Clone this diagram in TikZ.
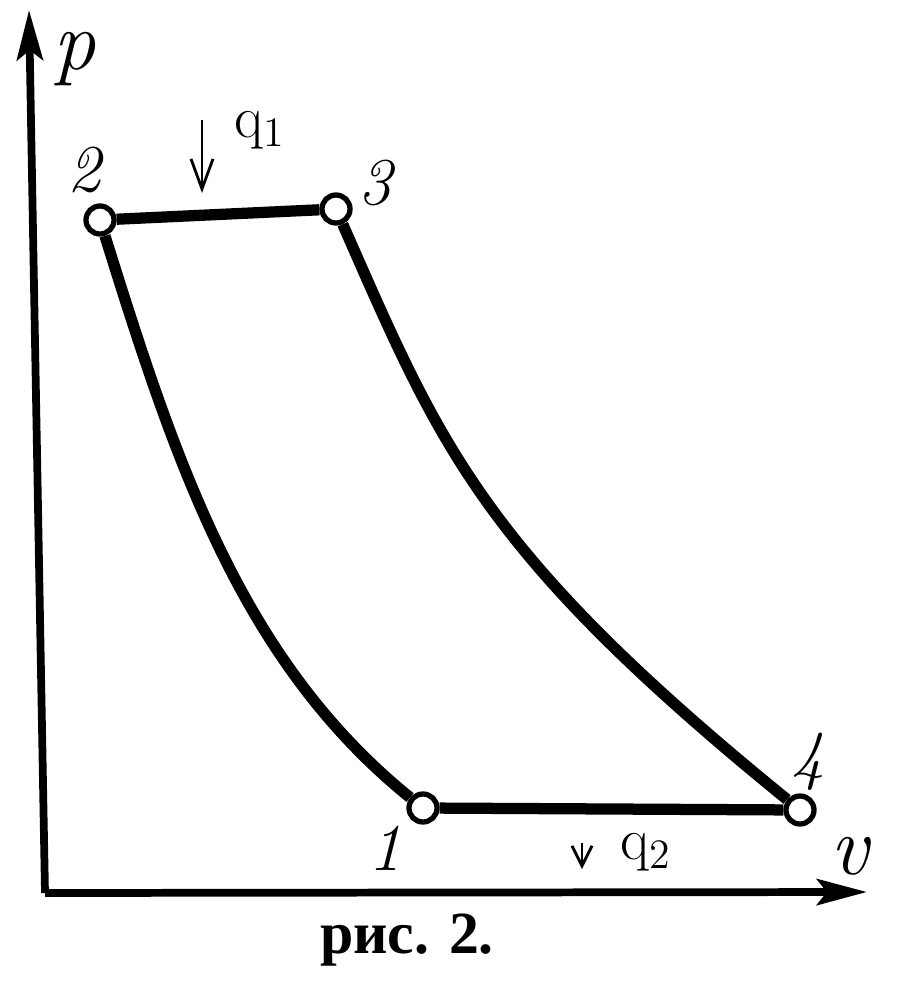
\documentclass[tikz,border=0pt]{standalone}
\usepackage{fontspec}
\usepackage{tikz}
\usetikzlibrary{arrows.meta, positioning, calc}
\newfontfamily\capfont{Liberation Serif}

\begin{document}
\begin{tikzpicture}[
    x=0.01cm, y=-0.01cm,
    axis/.style={line width=2.2pt, -{Stealth[length=5mm, width=2.6mm, inset=1mm]}},
    cycle/.style={line width=3.2pt},
    state/.style={circle, draw, line width=1.5pt, fill=white, inner sep=0pt, minimum size=0.28cm},
    lbl/.style={font=\fontsize{19}{19}\selectfont\itshape},
    axlbl/.style={font=\fontsize{24}{24}\selectfont\itshape},
    heat/.style={line width=0.8pt, -{Straight Barb[length=3mm, width=2.2mm]}},
    qtxt/.style={font=\fontsize{17}{17}\selectfont}
]
\useasboundingbox (0,0) rectangle (906,984);

% Axes
\coordinate (orig) at (45,893);
\coordinate (ptip) at (29,10);
\coordinate (vtip) at (867,892);
\draw[axis] (orig) -- (ptip);
\draw[axis] (orig) -- (vtip);
\node[axlbl] (plbl) at (75,59) {p};
\node[axlbl] (vlbl) at (849,856) {v};

% States
\node[state] (s1) at (423,808) {};
\node[state] (s2) at (100,220) {};
\node[state] (s3) at (336,209) {};
\node[state] (s4) at (800,810) {};

% Cycle
\draw[cycle] (s2) -- (s3);
\draw[cycle] (s3) .. controls (440,445) and (480,550) .. (s4);
\draw[cycle] (s4) -- (s1);
\draw[cycle] (s1) .. controls (240,660) and (175,460) .. (s2);

% State labels
\node[lbl] (n1) at (385,848) {1};
\node[lbl] (n2) at (84,170) {2};
\node[lbl] (n3) at (375,183) {3};
\node[lbl] (n4) at (808,762) {4};

% Heat in / out
\coordinate (q1a) at (202,120);
\coordinate (q1b) at (202,193);
\draw[heat] (q1a) -- (q1b);
\node[qtxt, anchor=west] (q1) at (222,130) {q\textsubscript{1}};
\coordinate (q2a) at (582,843);
\coordinate (q2b) at (582,869);
\draw[heat, -{Straight Barb[length=2mm, width=2mm]}] (q2a) -- (q2b);
\node[qtxt, anchor=west] (q2) at (608,852) {q\textsubscript{2}};

% Caption
\node[font=\fontsize{17}{17}\selectfont\capfont\bfseries] (cap) at (407,940) {рис. 2.};
\end{tikzpicture}
\end{document}
